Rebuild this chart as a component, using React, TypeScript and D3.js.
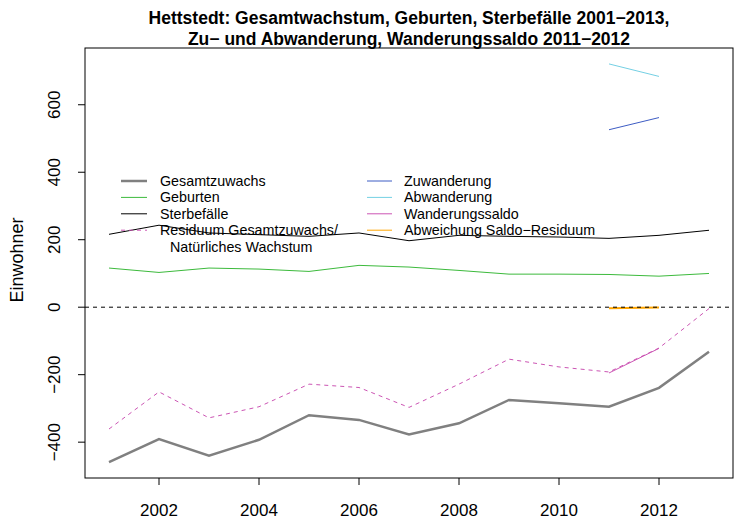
import * as d3 from 'd3';

const years = [2001, 2002, 2003, 2004, 2005, 2006, 2007, 2008, 2009, 2010, 2011, 2012, 2013];
const gesamtzuwachs = [-459, -391, -440, -393, -320, -334, -377, -344, -275, -285, -295, -239, -132];
const geburten = [116, 103, 116, 113, 106, 124, 119, 109, 98, 98, 97, 92, 100];
const sterbefaelle = [216, 243, 220, 215, 210, 220, 197, 213, 210, 208, 204, 213, 228];
const residuum = [-361, -251, -328, -295, -228, -238, -297, -228, -154, -177, -192, -121, -4];

const migrationYears = [2011, 2012];
const zuwanderung = [526, 562];
const abwanderung = [721, 684];
const wanderungssaldo = [-195, -122];
const abweichung = [-3, -1];

const yTicks = [-400, -200, 0, 200, 400, 600];
const xTicks = [2002, 2004, 2006, 2008, 2010, 2012];

const titleLines = [
  'Hettstedt: Gesamtwachstum, Geburten, Sterbefälle 2001−2013,',
  'Zu− und Abwanderung, Wanderungssaldo 2011−2012',
];

const legendLeft = ['Gesamtzuwachs', 'Geburten', 'Sterbefälle', 'Residuum Gesamtzuwachs/'];
const legendRight = ['Zuwanderung', 'Abwanderung', 'Wanderungssaldo', 'Abweichung Saldo−Residuum'];

const FONT = '"Liberation Sans", Arial, Helvetica, sans-serif';

const COL = {
  gesamt: '#808080',
  geburten: '#3cba3c',
  sterbe: '#000000',
  residuum: '#cc55b4',
  zu: '#3d5cc4',
  ab: '#74d0e4',
  saldo: '#cc55b4',
  abw: '#ffa500',
};

export default function App() {
  const W = 742;
  const H = 525;
  const left = 85, right = 733, top = 48, bottom = 478;

  // R-style 4% padding of the data range
  const xr = d3.extent(years) as [number, number];
  const xpad = (xr[1] - xr[0]) * 0.04;
  const x = d3.scaleLinear().domain([xr[0] - xpad, xr[1] + xpad]).range([left, right]);

  const allY = [...gesamtzuwachs, ...geburten, ...sterbefaelle, ...residuum,
    ...zuwanderung, ...abwanderung, ...wanderungssaldo, ...abweichung];
  const yr = d3.extent(allY) as [number, number];
  const ypad = (yr[1] - yr[0]) * 0.04;
  const y = d3.scaleLinear().domain([yr[0] - ypad, yr[1] + ypad]).range([bottom, top]);

  const line = (xs: number[], vs: number[]) =>
    d3.line<number>().x((_, i) => x(xs[i])).y((v) => y(v))(vs) || '';

  const series = [
    { xs: years, vs: gesamtzuwachs, color: COL.gesamt, w: 2.5, dash: undefined },
    { xs: years, vs: geburten, color: COL.geburten, w: 1, dash: undefined },
    { xs: years, vs: sterbefaelle, color: COL.sterbe, w: 1, dash: undefined },
    { xs: years, vs: residuum, color: COL.residuum, w: 1, dash: '4 4' },
    { xs: migrationYears, vs: zuwanderung, color: COL.zu, w: 1, dash: undefined },
    { xs: migrationYears, vs: abwanderung, color: COL.ab, w: 1, dash: undefined },
    { xs: migrationYears, vs: wanderungssaldo, color: COL.saldo, w: 1, dash: undefined },
    { xs: migrationYears, vs: abweichung, color: COL.abw, w: 2, dash: undefined },
  ];

  const leftStyles = [
    { color: COL.gesamt, w: 2.5, dash: undefined },
    { color: COL.geburten, w: 1, dash: undefined },
    { color: COL.sterbe, w: 1, dash: undefined },
    { color: COL.residuum, w: 1, dash: '4 4' },
  ];
  const rightStyles = [
    { color: COL.zu, w: 1 },
    { color: COL.ab, w: 1 },
    { color: COL.saldo, w: 1 },
    { color: COL.abw, w: 1 },
  ];
  const legendY0 = 181;
  const legendDy = 16.4;

  return (
    <svg width={W} height={H} style={{ position: 'absolute', left: 0, top: 0, background: '#fff' }}
      fontFamily={FONT}>
      <rect x={0} y={0} width={W} height={H} fill="#fff" />

      {titleLines.map((t, i) => (
        <text key={t} x={(left + right) / 2} y={24 + i * 21} textAnchor="middle"
          fontWeight="bold" fontSize={17.5}>{t}</text>
      ))}

      {series.map((s, i) => (
        <path key={i} d={line(s.xs, s.vs)} fill="none" stroke={s.color}
          strokeWidth={s.w} strokeDasharray={s.dash} />
      ))}

      <line x1={left} x2={right} y1={y(0)} y2={y(0)} stroke="#000" strokeWidth={1}
        strokeDasharray="4 4" />

      <rect x={left} y={top} width={right - left} height={bottom - top} fill="none"
        stroke="#000" strokeWidth={1} />

      {yTicks.map((t) => (
        <g key={t}>
          <line x1={left - 7} x2={left} y1={y(t)} y2={y(t)} stroke="#000" />
          <text transform={`translate(60,${y(t)}) rotate(-90)`} textAnchor="middle"
            fontSize={17}>{t < 0 ? `−${-t}` : t}</text>
        </g>
      ))}
      {xTicks.map((t) => (
        <g key={t}>
          <line x1={x(t)} x2={x(t)} y1={bottom} y2={bottom + 7} stroke="#000" />
          <text x={x(t)} y={516} textAnchor="middle" fontSize={17}>{t}</text>
        </g>
      ))}

      <text transform={`translate(23,260) rotate(-90)`} textAnchor="middle"
        fontSize={18}>Einwohner</text>

      {legendLeft.map((t, i) => {
        const ly = legendY0 + i * legendDy;
        const st = leftStyles[i];
        return (
          <g key={t}>
            <line x1={121} x2={147} y1={ly} y2={ly} stroke={st.color} strokeWidth={st.w}
              strokeDasharray={st.dash} />
            <text x={160} y={ly + 5} fontSize={14.3}>{t}</text>
          </g>
        );
      })}
      <text x={170} y={legendY0 + 4 * legendDy + 5} fontSize={14.3}>Natürliches Wachstum</text>

      {legendRight.map((t, i) => {
        const ly = legendY0 + i * legendDy;
        const st = rightStyles[i];
        return (
          <g key={t}>
            <line x1={367} x2={392} y1={ly} y2={ly} stroke={st.color} strokeWidth={st.w} />
            <text x={404} y={ly + 5} fontSize={14.3}>{t}</text>
          </g>
        );
      })}
    </svg>
  );
}
